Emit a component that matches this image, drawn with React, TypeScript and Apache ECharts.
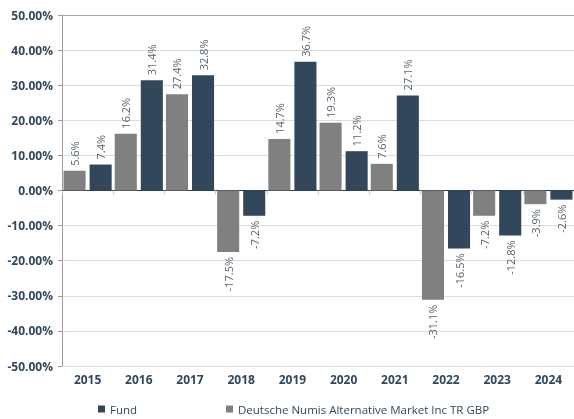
import React, { useEffect, useRef } from "react";
import * as echarts from "echarts";

const years = ["2015", "2016", "2017", "2018", "2019", "2020", "2021", "2022", "2023", "2024"];
const fundName = "Fund";
const benchName = "Deutsche Numis Alternative Market Inc TR GBP";
const fundValues = [7.4, 31.4, 32.8, -7.2, 36.7, 11.2, 27.1, -16.5, -12.8, -2.6];
const benchValues = [5.6, 16.2, 27.4, -17.5, 14.7, 19.3, 7.6, -31.1, -7.2, -3.9];
const yMin = -50;
const yMax = 50;
const yStep = 10;

const FONT = "'Open Sans', sans-serif";
const NAVY = "#33475b";
const GRAY = "#808080";

function withLabels(values: number[]) {
  return values.map((v) => ({
    value: v,
    label: {
      show: true,
      rotate: 90,
      position: v >= 0 ? "top" : "bottom",
      align: v >= 0 ? "left" : "right",
      verticalAlign: "middle",
      distance: 5,
      color: "#56636f",
      fontSize: 11,
      fontFamily: FONT,
      formatter: (p: any) => p.value.toFixed(1) + "%",
    },
  }));
}

export default function App() {
  const ref = useRef<HTMLDivElement>(null);
  useEffect(() => {
    if (!ref.current) return;
    const chart = echarts.init(ref.current, undefined, { renderer: "svg" });
    const legendText = { color: NAVY, fontSize: 11.5, fontFamily: FONT };
    chart.setOption({
      animation: false,
      textStyle: { fontFamily: FONT },
      grid: { left: 62, right: 0, top: 15, bottom: 53, containLabel: false },
      legend: [
        {
          data: [fundName],
          left: 96,
          top: 401,
          padding: 2,
          itemGap: 0,
          icon: "rect",
          itemWidth: 7,
          itemHeight: 7,
          textStyle: legendText,
          selectedMode: false,
        },
        {
          data: [benchName],
          left: 224,
          top: 401,
          padding: 2,
          itemGap: 0,
          icon: "rect",
          itemWidth: 7,
          itemHeight: 7,
          textStyle: legendText,
          selectedMode: false,
        },
      ],
      xAxis: [
        {
          type: "category",
          data: years,
          axisLine: { onZero: true, lineStyle: { color: "#2b3a4a", width: 1 } },
          axisTick: { show: true, length: 4, lineStyle: { color: "#cccccc" } },
          axisLabel: {
            color: NAVY,
            fontWeight: "bold",
            fontSize: 12,
            fontFamily: FONT,
            margin: 7,
          },
          splitLine: { show: false },
        },
        {
          type: "category",
          data: years,
          position: "top",
          axisLine: { onZero: false, lineStyle: { color: "#a8aab0", width: 1 } },
          axisTick: { show: false },
          axisLabel: { show: false },
        },
      ],
      yAxis: {
        type: "value",
        min: yMin,
        max: yMax,
        interval: yStep,
        axisLine: { show: true, lineStyle: { color: "#9a9ca0" } },
        axisTick: { show: true, length: 4, lineStyle: { color: "#9a9ca0" } },
        axisLabel: {
          color: NAVY,
          fontWeight: "bold",
          fontSize: 12,
          fontFamily: FONT,
          margin: 9,
          formatter: (v: number) => v.toFixed(2) + "%",
        },
        splitLine: { show: true, lineStyle: { color: "#dddddd" } },
      },
      series: [
        {
          name: benchName,
          type: "bar",
          data: withLabels(benchValues),
          itemStyle: { color: GRAY },
          barGap: "18%",
          barCategoryGap: "6%",
        },
        {
          name: fundName,
          type: "bar",
          data: withLabels(fundValues),
          itemStyle: { color: NAVY },
          barGap: "18%",
          barCategoryGap: "6%",
        },
      ],
    });
    return () => chart.dispose();
  }, []);
  return (
    <div
      ref={ref}
      style={{ position: "fixed", left: 0, top: 0, width: 574, height: 419 }}
    />
  );
}
